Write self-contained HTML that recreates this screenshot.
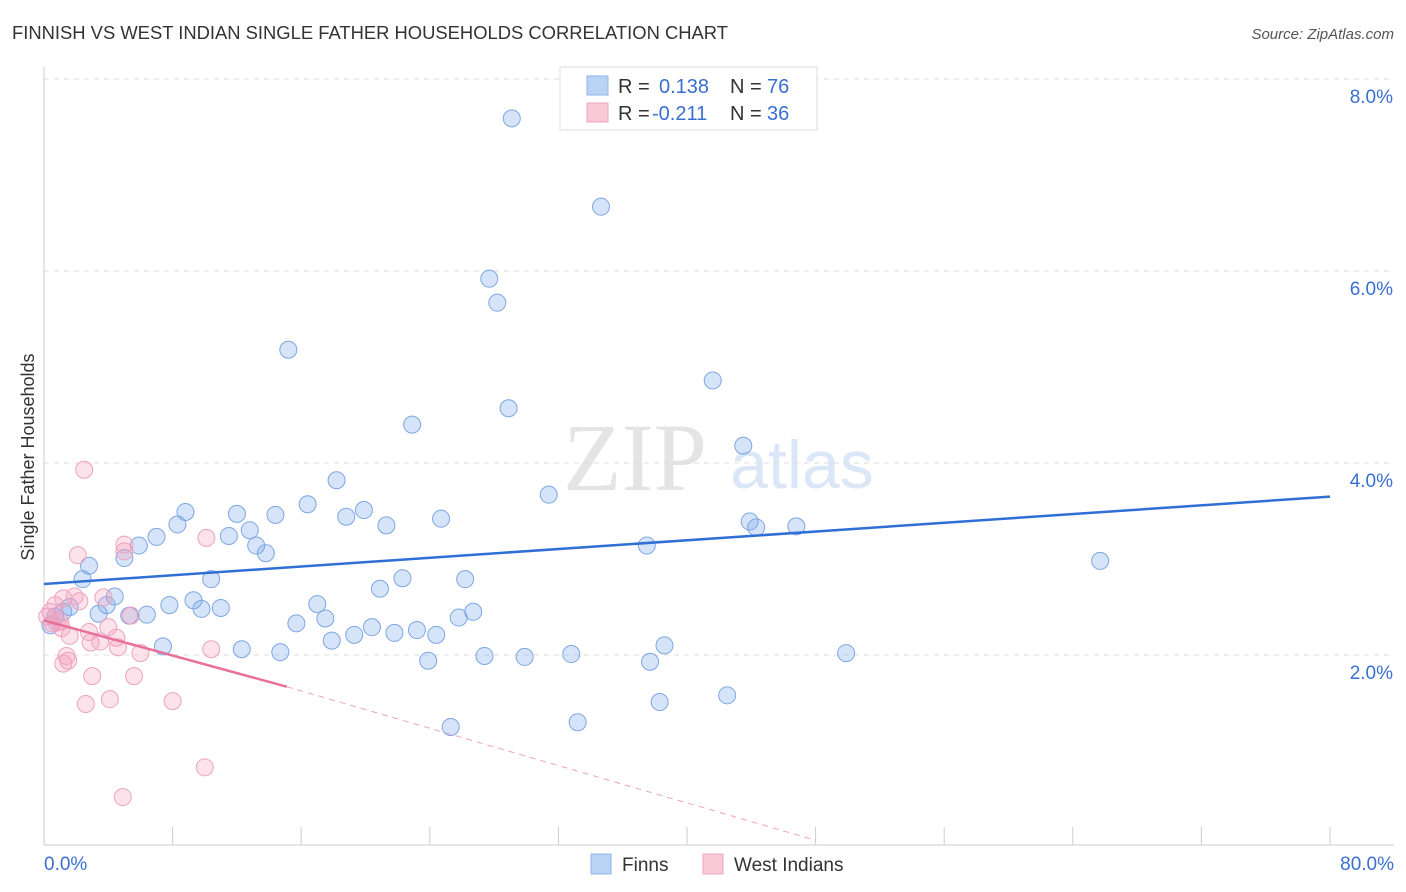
<!DOCTYPE html>
<html><head><meta charset="utf-8"><style>
body{margin:0;background:#fff;font-family:"Liberation Sans",sans-serif;}
#wrap{position:relative;width:1406px;height:892px;overflow:hidden}
</style></head><body>
<div id="wrap">
<svg id="svg" width="1406" height="892" xmlns="http://www.w3.org/2000/svg">
<text x="12" y="39" font-size="18.4" fill="#333">FINNISH VS WEST INDIAN SINGLE FATHER HOUSEHOLDS CORRELATION CHART</text>
<text x="1394" y="39" font-size="15" fill="#555" font-style="italic" text-anchor="end">Source: ZipAtlas.com</text>
<text x="635" y="490" font-size="96" fill="#e4e4e4" font-family="Liberation Serif,serif" text-anchor="middle">ZIP</text>
<text x="802" y="488" font-size="68" fill="#dbe6f6" text-anchor="middle">atlas</text>
<text transform="translate(34,457) rotate(-90)" font-size="18" fill="#333" text-anchor="middle">Single Father Households</text>
<g id="grid"></g><g id="axes"></g><g id="pts"></g><g id="trend"></g>
<g>
<rect x="560" y="67" width="257" height="63" fill="#fff" stroke="#ddd"/>
<rect x="587" y="76" width="21" height="19" fill="#b9d3f5" stroke="#8fb3e8"/>
<rect x="587" y="103" width="21" height="19" fill="#f9c9d8" stroke="#eea3bd"/>
<text x="618" y="93" font-size="20" fill="#333">R =</text><text x="659" y="93" font-size="20" fill="#3a6fd0">0.138</text>
<text x="730" y="93" font-size="20" fill="#333">N =</text><text x="767" y="93" font-size="20" fill="#3a6fd0">76</text>
<text x="618" y="120" font-size="20" fill="#333">R =</text><text x="652" y="120" font-size="20" fill="#3a6fd0">-0.211</text>
<text x="730" y="120" font-size="20" fill="#333">N =</text><text x="767" y="120" font-size="20" fill="#3a6fd0">36</text>
</g>
<g>
<rect x="591" y="854" width="20" height="20" fill="#b9d3f5" stroke="#8fb3e8"/>
<text x="622" y="871" font-size="19" fill="#333">Finns</text>
<rect x="703" y="854" width="20" height="20" fill="#f9c9d8" stroke="#eea3bd"/>
<text x="734" y="871" font-size="19" fill="#333">West Indians</text>
</g>
</svg></div>
<script>
const finnsX=[29.1,34.65,27.7,28.2,15.2,41.6,28.9,22.9,43.5,31.4,18.2,16.4,19.9,18.8,24.7,21.3,8.8,8.3,12.0,14.4,12.8,11.5,7.0,5.9,13.2,13.8,5.0,2.8,2.4,10.4,22.3,26.2,20.9,43.9,44.3,46.8,37.5,65.7,4.4,3.9,1.6,1.2,3.4,5.3,6.4,7.8,9.3,9.8,11.0,17.0,15.7,17.5,26.7,25.8,23.2,20.4,21.8,24.4,19.3,17.9,7.4,12.3,14.7,38.6,27.4,29.9,32.8,37.7,49.9,23.9,38.3,42.5,25.3,33.2,0.7,0.4];
const finnsY=[7.59,6.67,5.92,5.67,5.18,4.86,4.57,4.40,4.18,3.67,3.82,3.57,3.51,3.44,3.42,3.35,3.49,3.36,3.47,3.46,3.30,3.24,3.23,3.14,3.14,3.06,3.01,2.93,2.79,2.79,2.80,2.79,2.69,3.39,3.33,3.34,3.14,2.98,2.61,2.52,2.50,2.45,2.43,2.41,2.42,2.52,2.57,2.48,2.49,2.53,2.33,2.38,2.45,2.39,2.26,2.29,2.23,2.21,2.21,2.15,2.09,2.06,2.03,2.10,1.99,1.98,2.01,1.93,2.02,1.94,1.51,1.58,1.25,1.30,2.40,2.31];
const wiX=[2.5,2.1,5.0,5.0,10.1,1.2,1.9,2.2,0.7,3.7,5.4,4.0,2.8,4.5,1.6,2.9,3.5,4.6,6.0,10.4,1.4,1.2,1.5,3.0,5.6,2.6,4.1,8.0,10.0,4.9,0.2,0.5,0.8,1.0,0.4,1.1];
const wiY=[3.93,3.04,3.15,3.08,3.22,2.59,2.61,2.56,2.52,2.60,2.41,2.29,2.24,2.18,2.20,2.13,2.14,2.08,2.02,2.06,1.99,1.91,1.94,1.78,1.78,1.49,1.54,1.52,0.83,0.52,2.40,2.33,2.34,2.35,2.45,2.28];
const yTicks=[2,4,6,8];
const yTickLabels=["2.0%","4.0%","6.0%","8.0%"];
const finnsTrend=[2.74,3.65];
const wiTrend=[2.36,1.67,0.07];
const wiTrendX=[0,15.1,48];
const X=v=>44+v*1286/80, Y=v=>847-v*96;
const NS="http://www.w3.org/2000/svg";
function mk(p,t,a){const e=document.createElementNS(NS,t);for(const k in a)e.setAttribute(k,a[k]);p.appendChild(e);return e;}
const grid=document.getElementById('grid'),axes=document.getElementById('axes'),pts=document.getElementById('pts'),tr=document.getElementById('trend');
yTicks.forEach((t,i)=>{
 const l=mk(grid,'line',{x1:44,x2:1394,y1:Y(t),y2:Y(t),stroke:'#ddd','stroke-dasharray':'5,5'});
 
 
 const tx=mk(axes,'text',{x:1393,y:Y(t)+24,'font-size':19,fill:'#3a6fd0','text-anchor':'end'});
 tx.textContent=yTickLabels[i];
 
 
});
mk(axes,'line',{x1:44,x2:44,y1:67,y2:845,stroke:'#ccc'});
mk(axes,'line',{x1:44,x2:1394,y1:845,y2:845,stroke:'#ccc'});
for(let i=0;i<=10;i++){const t=mk(axes,'line',{x1:X(i*8),x2:X(i*8),y1:827,y2:845,stroke:'#ccc'});
 
 }
const xl0=mk(axes,'text',{x:44,y:870,'font-size':19,fill:'#3a6fd0'});xl0.textContent='0.0%';


const xl1=mk(axes,'text',{x:1394,y:870,'font-size':19,fill:'#3a6fd0','text-anchor':'end'});xl1.textContent='80.0%';


finnsX.forEach((x,i)=>{const c=mk(pts,'circle',{cx:X(x),cy:Y(finnsY[i]),r:8.5,fill:'rgba(120,165,235,0.3)',stroke:'#7ea6e4','stroke-width':1});
 
 });
wiX.forEach((x,i)=>{const c=mk(pts,'circle',{cx:X(x),cy:Y(wiY[i]),r:8.5,fill:'rgba(245,160,190,0.3)',stroke:'#eea3bd','stroke-width':1});
 
 });
const bt=mk(tr,'line',{x1:X(0),y1:Y(finnsTrend[0]),x2:X(80),y2:Y(finnsTrend[1]),stroke:'#2f6fd6','stroke-width':2.5});


const pt=mk(tr,'line',{x1:X(wiTrendX[0]),y1:Y(wiTrend[0]),x2:X(wiTrendX[1]),y2:Y(wiTrend[1]),stroke:'#e8709a','stroke-width':2.5});


const pd=mk(tr,'line',{x1:X(wiTrendX[1]),y1:Y(wiTrend[1]),x2:X(wiTrendX[2]),y2:Y(wiTrend[2]),stroke:'#eea3bd','stroke-width':1,'stroke-dasharray':'6,5'});


</script>
</body></html>
